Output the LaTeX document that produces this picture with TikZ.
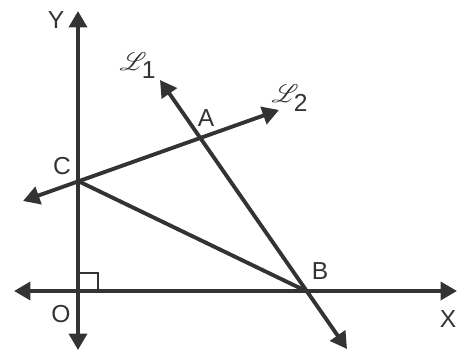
\documentclass[tikz,border=0pt]{standalone}
\usepackage{fontspec}
\setmainfont{Liberation Sans}
\usepackage{mathrsfs}
\usetikzlibrary{arrows.meta}

\begin{document}
\begin{tikzpicture}[
  x=0.02cm, y=-0.02cm,
  line/.style={draw=ink, line width=2.2pt, {Triangle[length=0.33cm, width=0.36cm]}-{Triangle[length=0.33cm, width=0.36cm]}},
  lbl/.style={text=ink, font=\fontsize{14}{16}\selectfont, inner sep=0pt},
  >=Stealth
]
\definecolor{ink}{HTML}{333333}
\useasboundingbox (0,0) rectangle (459,351);

% Points
\coordinate (O) at (78,291);
\coordinate (C) at (78,181);
\coordinate (A) at (200,138);
\coordinate (B) at (306,291);

% Ends of the lines
\coordinate (xl) at (14,291);
\coordinate (xr) at (457,291);
\coordinate (yb) at (78,350);
\coordinate (yt) at (78,11);
\coordinate (l1t) at (160,80);
\coordinate (l1b) at (347,349);
\coordinate (l2l) at (23,201);
\coordinate (l2r) at (279,110);

% Axes and lines
\draw[line] (xl) -- (xr);
\draw[line] (yb) -- (yt);
\draw[line] (l1b) -- (l1t);
\draw[line] (l2l) -- (l2r);
\draw[draw=ink, line width=2.2pt] (C) -- (B);

% Right angle at O
\draw[draw=ink, line width=0.7pt] (78,273) -- (98,273) -- (98,291);

% Labels
\node[lbl] (ylab) at (56,20) {Y};
\node[lbl] (xlab) at (448,319) {X};
\node[lbl] (olab) at (61,314) {O};
\node[lbl] (clab) at (62,166) {C};
\node[lbl] (alab) at (206,118) {A};
\node[lbl] (blab) at (320,271) {B};
\node[lbl] (l1lab) at (138,66) {$\mathscr{L}_{\textrm{1}}$};
\node[lbl] (l2lab) at (290,98) {$\mathscr{L}_{\textrm{2}}$};

\end{tikzpicture}
\end{document}
